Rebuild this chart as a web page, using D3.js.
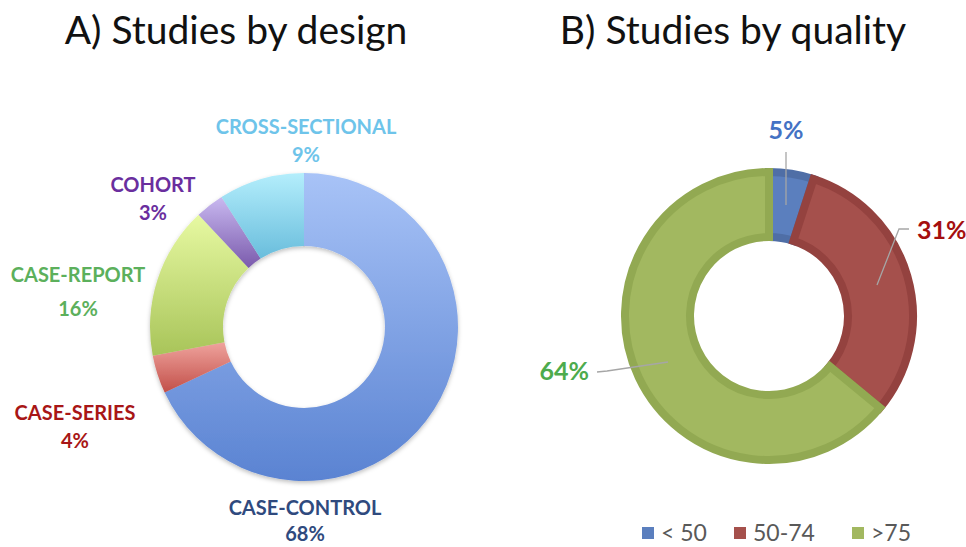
<!DOCTYPE html>
<html><head><meta charset="utf-8">
<script src="https://cdn.jsdelivr.net/npm/d3@7"></script>
<style>body{margin:0;background:#fff}svg{display:block}</style>
</head><body>
<svg id="c" width="966" height="547"></svg>
<script>
const designCategories = ["CASE-CONTROL","CASE-SERIES","CASE-REPORT","COHORT","CROSS-SECTIONAL"];
const designValues = [68, 4, 16, 3, 9];
const qualityCategories = ["< 50","50-74",">75"];
const qualityValues = [5, 31, 64];

const designTop = ["#a8c3f7","#efa39d","#e7f9a2","#c9b9f0","#b4eefc"];
const designBot = ["#5a83d2","#c24f49","#a8c459","#7a5aac","#69bddc"];
const designText = ["#2f4a7e","#a81616","#5cb05c","#6a2e9e","#6ec4ea"];
const qualityFill = ["#5b7fbe","#a5504c","#a2b860"];
const qualityStroke = ["#4f6ea6","#94423f","#92a952"];
const qualityText = ["#4472c4","#a50f0f","#4dab4d"];

const svg = d3.select("#c");
const font = "Lato, 'Open Sans', sans-serif";

// titles
svg.append("text").attr("x",236).attr("y",44).attr("text-anchor","middle")
  .attr("font-family",font).attr("font-size",39).attr("fill","#111").text("A) Studies by design");
svg.append("text").attr("x",733).attr("y",44).attr("text-anchor","middle")
  .attr("font-family",font).attr("font-size",39).attr("fill","#111").text("B) Studies by quality");

const defs = svg.append("defs");
const f = defs.append("filter").attr("id","sh").attr("x","-20%").attr("y","-20%").attr("width","140%").attr("height","140%");
f.append("feDropShadow").attr("dx",0).attr("dy",2).attr("stdDeviation",2).attr("flood-color","#000").attr("flood-opacity",0.25);

designCategories.forEach((c,i)=>{
  const g = defs.append("linearGradient").attr("id","dg"+i).attr("x1",0).attr("y1",0).attr("x2",0).attr("y2",1);
  g.append("stop").attr("offset","0%").attr("stop-color",designTop[i]);
  g.append("stop").attr("offset","100%").attr("stop-color",designBot[i]);
});

// Chart A
const pie = d3.pie().sort(null).value(d=>d);
const arcA = d3.arc().innerRadius(81).outerRadius(154);
const gA = svg.append("g").attr("transform","translate(304,327)").attr("filter","url(#sh)");
gA.selectAll("path").data(pie(designValues)).join("path")
  .attr("d",arcA).attr("fill",(d,i)=>`url(#dg${i})`);

const designLabelPos = [[305,515],[75,420],[78,282],[153,192],[306,134]];
designCategories.forEach((c,i)=>{
  const t = svg.append("text").attr("text-anchor","middle").attr("font-family",font)
    .attr("font-weight","bold").attr("font-size",20).attr("fill",designText[i]);
  t.append("tspan").attr("x",designLabelPos[i][0]).attr("y",designLabelPos[i][1]).text(c);
  t.append("tspan").attr("x",designLabelPos[i][0]).attr("dy",i===2?34:i===0?26:28).text(designValues[i]+"%");
});

// Chart B
const arcB = d3.arc().innerRadius(79).outerRadius(144);
const gB = svg.append("g").attr("transform","translate(769,316)");
gB.selectAll("path").data(pie(qualityValues)).join("path")
  .attr("d",arcB).attr("fill",(d,i)=>qualityFill[i]).attr("stroke",(d,i)=>qualityStroke[i])
  .attr("stroke-width",8).attr("stroke-linejoin","miter");

// leader lines
const leaders = [
  [[786,152],[786,205]],
  [[909,229],[899,229],[877,285]],
  [[597,372],[607,371],[668,362]]
];
leaders.forEach(p=>svg.append("path").attr("d",d3.line()(p)).attr("fill","none").attr("stroke","#a6a6a6").attr("stroke-width",1.3));
const qLabelPos = [[786,139,"middle"],[917,239,"start"],[589,380,"end"]];
qualityValues.forEach((v,i)=>{
  svg.append("text").attr("x",qLabelPos[i][0]).attr("y",qLabelPos[i][1]).attr("text-anchor",qLabelPos[i][2])
    .attr("font-family",font).attr("font-weight","bold").attr("font-size",25).attr("fill",qualityText[i]).text(v+"%");
});

// legend
const legX = [642,734,852];
qualityCategories.forEach((c,i)=>{
  svg.append("rect").attr("x",legX[i]).attr("y",527).attr("width",12).attr("height",12).attr("fill",qualityFill[i]);
  svg.append("text").attr("x",legX[i]+19).attr("y",541).attr("font-family",font).attr("font-size",23)
    .attr("fill","#595959").text(c);
});
</script>
</body></html>
